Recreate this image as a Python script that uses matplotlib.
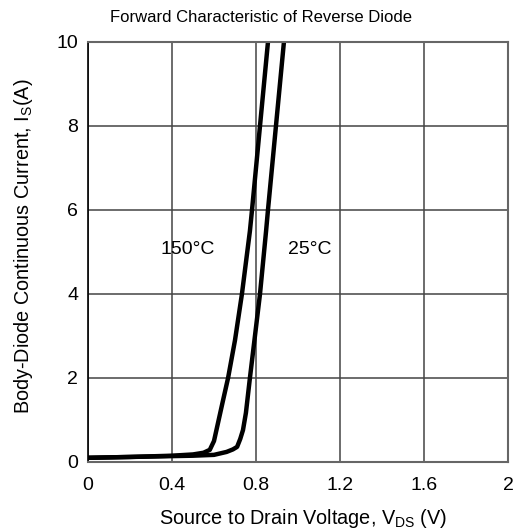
import matplotlib
matplotlib.use('Agg')
import matplotlib.pyplot as plt

# body diode forward curves, Is(A) vs Vsd(V)
vsd_150 = [0.0, 0.2, 0.4, 0.5, 0.55, 0.58, 0.60, 0.62, 0.64, 0.667, 0.70, 0.733, 0.771, 0.781, 0.819, 0.857]
is_150 = [0.10, 0.12, 0.15, 0.18, 0.22, 0.29, 0.50, 0.95, 1.40, 2.0, 2.9, 4.0, 5.5, 6.0, 8.0, 10.0]

vsd_25 = [0.0, 0.2, 0.4, 0.5, 0.6, 0.66, 0.69, 0.71, 0.725, 0.738, 0.752, 0.771, 0.819, 0.848, 0.857, 0.895, 0.933]
is_25 = [0.10, 0.12, 0.14, 0.15, 0.17, 0.24, 0.30, 0.36, 0.55, 0.76, 1.17, 2.0, 4.0, 5.5, 6.0, 8.0, 10.0]

xticks = [0, 0.4, 0.8, 1.2, 1.6, 2]
xticklabels = ['0', '0.4', '0.8', '1.2', '1.6', '2']
yticks = [0, 2, 4, 6, 8, 10]

plt.rcParams['font.family'] = ['Liberation Sans', 'DejaVu Sans']

W, H = 521, 531
fig = plt.figure(figsize=(W/100, H/100), dpi=100)
ax = fig.add_axes([88/W, 1-462/H, 420/W, 420/H])

ax.plot(vsd_150, is_150, color='black', lw=3.2, solid_capstyle='round')
ax.plot(vsd_25, is_25, color='black', lw=3.2, solid_capstyle='round')

ax.set_xlim(0, 2)
ax.set_ylim(0, 10)
ax.set_xticks(xticks)
ax.set_xticklabels(xticklabels)
ax.set_yticks(yticks)
ax.tick_params(axis='both', length=0, labelsize=14)
ax.tick_params(axis='x', pad=11)
ax.tick_params(axis='y', pad=7)
ax.grid(True, color='#444444', lw=1.1)
ax.set_axisbelow(True)
for s in ax.spines.values():
    s.set_color('#666666')
    s.set_linewidth(1.5)
ax.spines['left'].set_color('black')
ax.spines['left'].set_linewidth(1.2)

ax.text(0.477, 5.05, '150°C', fontsize=14, ha='center', va='center')
ax.text(1.055, 5.05, '25°C', fontsize=14, ha='center', va='center')

fig.text(0.5, 1-18/H, 'Forward Characteristic of Reverse Diode', fontsize=12, ha='center', va='center')
fig.text(303/W, 1-518/H, 'Source to Drain Voltage, V$_\\mathregular{DS}$ (V)', fontsize=14.3, ha='center', va='center')
fig.text(24/W, 1-246/H, 'Body-Diode Continuous Current, I$_\\mathregular{S}$(A)', fontsize=14.3,
         ha='center', va='center', rotation=90)

fig.savefig('out.png', dpi=100)
